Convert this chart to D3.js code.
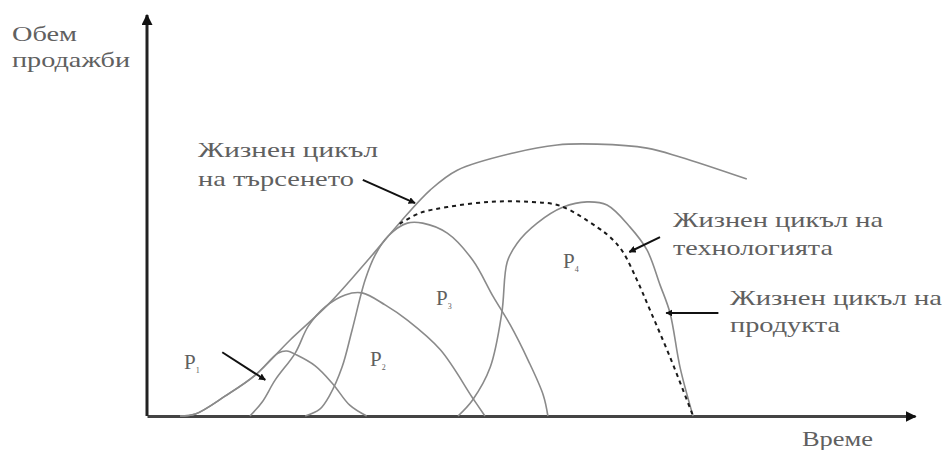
<!DOCTYPE html>
<html>
<head>
<meta charset="utf-8">
<script src="https://cdn.jsdelivr.net/npm/d3@7/dist/d3.min.js"></script>
<style>
  body { margin: 0; background: #fff; }
  text { font-family: "Liberation Serif", "Times New Roman", serif; fill: #606060; }
</style>
</head>
<body>
<div id="grafico"></div>
<script>
// time (0-100) / sales volume (0-100)
var demandT = [4.3, 6.3, 10.2, 14.1, 18.6, 23.8, 29.0, 33.0, 36.9, 40.4, 47.7, 53.4, 58.6, 65.1, 69.4, 78.1];
var demandV = [0, 0.5, 5.0, 10.2, 18.9, 28.2, 39.4, 48.4, 56.4, 61.3, 65.6, 67.6, 67.8, 66.8, 64.6, 59.1];

var techT = [32.9, 35.5, 39.1, 44.7, 49.9, 53.8, 58.6, 60.3, 61.9, 63.8, 65.5, 68.1, 71.1];
var techV = [47.9, 50.6, 52.1, 53.4, 53.4, 52.4, 47.1, 44.6, 41.1, 33.9, 26.4, 14.7, 0];

var p1T = [4.3, 6.3, 10.2, 14.1, 17.1, 18.2, 19.5, 21.9, 24.2, 26.4, 28.6];
var p1V = [0, 0.5, 5.0, 10.2, 15.7, 16.2, 15.2, 12.5, 8.0, 2.7, 0];

var p2T = [13.4, 15.0, 16.7, 19.3, 21.0, 23.2, 25.8, 28.0, 31.0, 33.9, 38.2, 42.4, 44.0];
var p2V = [0, 3.5, 9.0, 15.7, 22.4, 27.2, 30.2, 30.7, 27.7, 23.9, 16.5, 4.5, 0];

var p3T = [20.6, 22.5, 23.8, 25.4, 26.7, 28.4, 29.7, 31.4, 33.9, 35.9, 39.1, 42.4, 45.1, 47.3, 49.6, 51.6, 52.2];
var p3V = [0, 1.7, 5.2, 12.2, 21.4, 33.9, 40.1, 44.9, 48.1, 48.1, 45.6, 38.9, 29.7, 22.7, 14.0, 5.2, 0];

var p4T = [40.5, 42.4, 44.7, 46.2, 46.9, 48.2, 50.8, 54.2, 57.3, 59.9, 62.9, 65.1, 66.8, 68.1, 69.4, 71.1];
var p4V = [0, 4.0, 12.2, 25.7, 38.4, 43.1, 48.1, 52.1, 53.4, 52.6, 47.1, 41.4, 32.7, 25.7, 12.2, 0];

var productLabels = ["1", "2", "3", "4"];

var W = 944, H = 450;

var svg = d3.select("#grafico").append("svg")
    .attr("width", W)
    .attr("height", H);

var defs = svg.append("defs");
defs.append("marker")
    .attr("id", "flecha")
    .attr("viewBox", "0 0 10 10")
    .attr("refX", 9).attr("refY", 5)
    .attr("markerWidth", 7).attr("markerHeight", 7)
    .attr("markerUnits", "userSpaceOnUse")
    .attr("orient", "auto")
    .append("path").attr("d", "M0,0L10,5L0,10z").attr("fill", "#111");
defs.append("marker")
    .attr("id", "flechaEje")
    .attr("viewBox", "0 0 10 10")
    .attr("refX", 9).attr("refY", 5)
    .attr("markerWidth", 11).attr("markerHeight", 11)
    .attr("markerUnits", "userSpaceOnUse")
    .attr("orient", "auto")
    .append("path").attr("d", "M0,0L10,5L0,10z").attr("fill", "#111");

var x = d3.scaleLinear().domain([0, 100]).range([147, 915]);
var y = d3.scaleLinear().domain([0, 100]).range([416, 15]);

// axes without ticks, arrow at the end
svg.append("g")
    .attr("transform", "translate(0," + y(0) + ")")
    .call(d3.axisBottom(x).ticks(0).tickSizeOuter(0))
    .select(".domain")
    .attr("stroke", "#444")
    .attr("stroke-width", 3)
    .attr("marker-end", "url(#flechaEje)");

svg.append("g")
    .attr("transform", "translate(" + x(0) + ",0)")
    .call(d3.axisLeft(y).ticks(0).tickSizeOuter(0))
    .select(".domain")
    .attr("d", "M0," + y(0) + "V" + y(100))
    .attr("stroke", "#222")
    .attr("stroke-width", 3)
    .attr("marker-end", "url(#flechaEje)");

var line = d3.line()
    .x(function(d) { return x(d[0]); })
    .y(function(d) { return y(d[1]); })
    .curve(d3.curveCatmullRom.alpha(0.5));

function zip(ts, vs) {
    return ts.map(function(t, i) { return [t, vs[i]]; });
}

var curvas = [zip(demandT, demandV), zip(p1T, p1V), zip(p2T, p2V), zip(p3T, p3V), zip(p4T, p4V)];

svg.selectAll(".curva")
    .data(curvas)
    .enter().append("path")
    .attr("class", "curva")
    .attr("d", line)
    .attr("fill", "none")
    .attr("stroke", "#8a8a8a")
    .attr("stroke-width", 1.6);

svg.append("path")
    .datum(zip(techT, techV))
    .attr("d", line)
    .attr("fill", "none")
    .attr("stroke", "#1a1a1a")
    .attr("stroke-width", 2)
    .attr("stroke-dasharray", "4,4");

// annotation arrows
function flecha(t1, v1, t2, v2) {
    svg.append("line")
        .attr("x1", x(t1)).attr("y1", y(v1))
        .attr("x2", x(t2)).attr("y2", y(v2))
        .attr("stroke", "#111")
        .attr("stroke-width", 2)
        .attr("marker-end", "url(#flecha)");
}
flecha(28.1, 58.9, 34.9, 53.1);
flecha(9.8, 15.9, 15.4, 9.0);
flecha(66.8, 44.6, 62.8, 40.9);
flecha(74.4, 25.7, 67.6, 25.7);

function texto(tx, ty, str, len, size) {
    svg.append("text")
        .attr("x", tx).attr("y", ty)
        .attr("font-size", size || 22)
        .attr("textLength", len)
        .attr("lengthAdjust", "spacingAndGlyphs")
        .text(str);
}
texto(12, 41, "Обем", 65);
texto(12, 67, "продажби", 118);
texto(198, 157, "Жизнен цикъл", 180);
texto(198, 186, "на търсенето", 156);
texto(673, 227, "Жизнен цикъл на", 210);
texto(673, 255, "технологията", 160);
texto(730, 305, "Жизнен цикъл на", 212);
texto(730, 332, "продукта", 110);
texto(802, 446, "Време", 71, 21);

// P1..P4 labels
var posP = [[184, 369], [370, 366], [436, 305], [563, 268]];
svg.selectAll(".etiquetaP")
    .data(productLabels)
    .enter().append("text")
    .attr("class", "etiquetaP")
    .attr("x", function(d, i) { return posP[i][0]; })
    .attr("y", function(d, i) { return posP[i][1]; })
    .attr("font-size", 21)
    .each(function(d) {
        var t = d3.select(this);
        t.append("tspan").text("P");
        t.append("tspan").attr("font-size", 8).attr("dy", 4).text(d);
    });
</script>
</body>
</html>
